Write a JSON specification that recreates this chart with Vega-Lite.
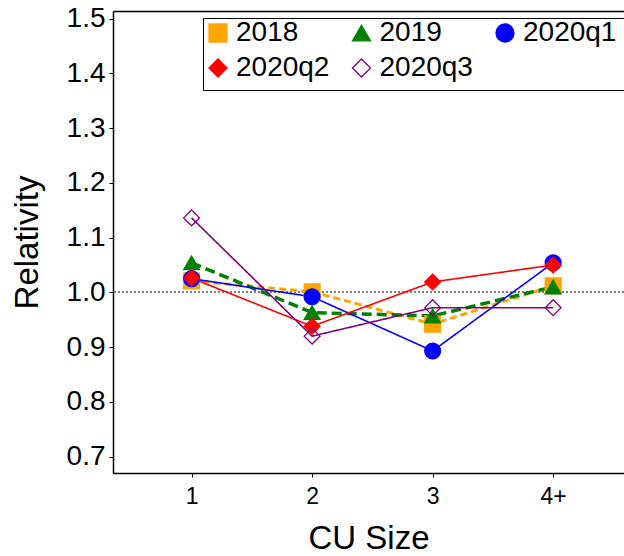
{
  "$schema": "https://vega.github.io/schema/vega-lite/v6.json",
  "autosize": {"type": "none"},
  "padding": {"left": 113, "top": 11, "right": 0, "bottom": 83},
  "width": 511,
  "height": 462,
  "background": "white",
  "config": {
    "font": "Liberation Sans",
    "view": {"stroke": null},
    "axis": {
      "grid": false,
      "domainColor": "black",
      "domainWidth": 1.5,
      "tickColor": "black",
      "tickWidth": 1,
      "tickSize": 4,
      "labelColor": "black",
      "titleColor": "black",
      "titleFontWeight": "normal",
      "labelFont": "Liberation Sans",
      "titleFont": "Liberation Sans"
    }
  },
  "data": {
    "values": [
      {"series": "2018", "cu": "1", "rel": 1.021},
      {"series": "2018", "cu": "2", "rel": 1.001},
      {"series": "2018", "cu": "3", "rel": 0.942},
      {"series": "2018", "cu": "4+", "rel": 1.012},
      {"series": "2019", "cu": "1", "rel": 1.054},
      {"series": "2019", "cu": "2", "rel": 0.963},
      {"series": "2019", "cu": "3", "rel": 0.957},
      {"series": "2019", "cu": "4+", "rel": 1.010},
      {"series": "2020q1", "cu": "1", "rel": 1.025},
      {"series": "2020q1", "cu": "2", "rel": 0.992},
      {"series": "2020q1", "cu": "3", "rel": 0.893},
      {"series": "2020q1", "cu": "4+", "rel": 1.054},
      {"series": "2020q2", "cu": "1", "rel": 1.026},
      {"series": "2020q2", "cu": "2", "rel": 0.938},
      {"series": "2020q2", "cu": "3", "rel": 1.019},
      {"series": "2020q2", "cu": "4+", "rel": 1.050},
      {"series": "2020q3", "cu": "1", "rel": 1.136},
      {"series": "2020q3", "cu": "2", "rel": 0.920},
      {"series": "2020q3", "cu": "3", "rel": 0.972},
      {"series": "2020q3", "cu": "4+", "rel": 0.972}
    ]
  },
  "layer": [
    {
      "mark": {"type": "rule", "color": "#7a7a7a", "strokeWidth": 1, "strokeDash": [2, 2]},
      "encoding": {
        "y": {"datum": 1.0, "type": "quantitative"}
      }
    },
    {
      "mark": {"type": "line"},
      "encoding": {
        "x": {
          "field": "cu", "type": "ordinal",
          "scale": {"type": "point", "domain": ["1", "2", "3", "4+"], "padding": 0.62, "align": 0.526},
          "axis": {"orient": "top", "labels": false, "ticks": false, "title": null, "domainWidth": 1.5}
        },
        "y": {
          "field": "rel", "type": "quantitative",
          "scale": {"domain": [0.67, 1.514], "nice": false, "zero": false},
          "axis": {
            "values": [0.7, 0.8, 0.9, 1.0, 1.1, 1.2, 1.3, 1.4, 1.5],
            "format": ".1f",
            "labelFontSize": 28,
            "labelPadding": 4,
            "title": "Relativity",
            "titleFontSize": 33,
            "titlePadding": 22
          }
        },
        "color": {
          "field": "series", "type": "nominal",
          "scale": {"domain": ["2020q3", "2020q2", "2020q1", "2019", "2018"], "range": ["purple", "red", "blue", "green", "orange"]},
          "legend": null
        },
        "strokeDash": {
          "field": "series", "type": "nominal",
          "scale": {"domain": ["2020q3", "2020q2", "2020q1", "2019", "2018"], "range": [[1, 0], [1, 0], [1, 0], [10, 5], [7, 4]]},
          "legend": null
        },
        "strokeWidth": {
          "field": "series", "type": "nominal",
          "scale": {"type": "ordinal", "domain": ["2020q3", "2020q2", "2020q1", "2019", "2018"], "range": [1.6, 1.6, 1.6, 3.5, 3]},
          "legend": null
        }
      }
    },
    {
      "mark": {"type": "point", "opacity": 1, "strokeWidth": 1.3, "size": 250},
      "encoding": {
        "x": {
          "field": "cu", "type": "ordinal",
          "axis": {
            "orient": "bottom",
            "labelAngle": 0,
            "labelFontSize": 23,
            "labelPadding": 8,
            "title": "CU Size",
            "titleFontSize": 33,
            "titlePadding": 14
          }
        },
        "y": {"field": "rel", "type": "quantitative"},
        "shape": {
          "field": "series", "type": "nominal",
          "scale": {"domain": ["2018", "2019", "2020q1", "2020q2", "2020q3"], "range": ["square", "triangle-up", "circle", "diamond", "diamond"]},
          "legend": {
            "orient": "none",
            "legendX": 90,
            "legendY": 7,
            "direction": "horizontal",
            "columns": 3,
            "padding": 1,
            "strokeColor": "black",
            "fillColor": "white",
            "labelFontSize": 28,
            "labelColor": "black",
            "labelFont": "Liberation Sans",
            "labelOffset": 4,
            "symbolSize": 324,
            "symbolStrokeWidth": 1.3,
            "columnPadding": 17.5,
            "rowPadding": 7,
            "title": " ",
            "titleOrient": "right",
            "titleFontSize": 76,
            "titlePadding": 30
          }
        },
        "fill": {
          "field": "series", "type": "nominal",
          "scale": {"domain": ["2018", "2019", "2020q1", "2020q2", "2020q3"], "range": ["orange", "green", "blue", "red", "transparent"]}
        },
        "stroke": {
          "field": "series", "type": "nominal",
          "scale": {"domain": ["2018", "2019", "2020q1", "2020q2", "2020q3"], "range": ["orange", "green", "blue", "red", "purple"]}
        }
      }
    }
  ],
  "resolve": {"axis": {"x": "independent"}}
}
